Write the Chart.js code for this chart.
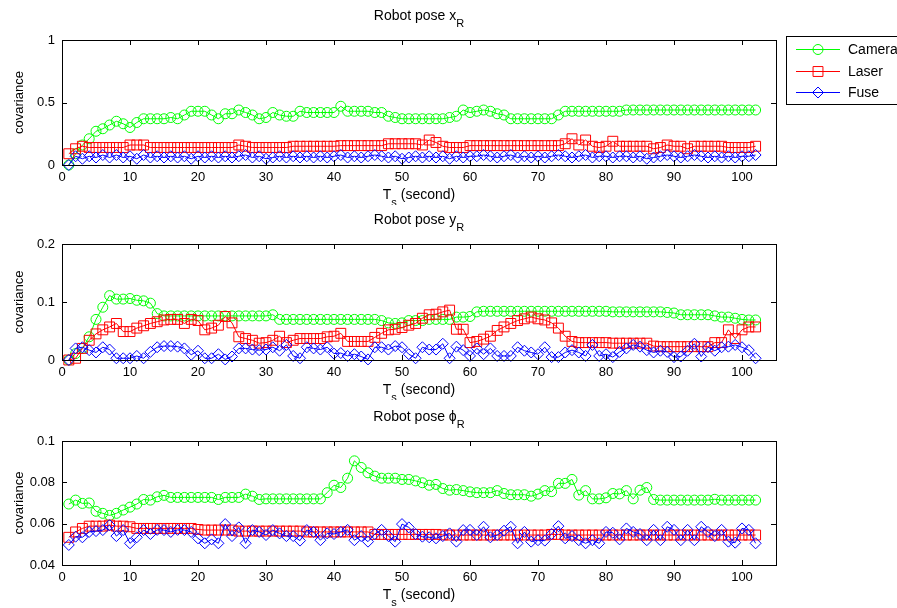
<!DOCTYPE html>
<html>
<head>
<meta charset="utf-8">
<script src="https://cdn.jsdelivr.net/npm/chart.js@4.4.0/dist/chart.umd.min.js"></script>
<style>
  body { margin: 0; background: #fff; width: 897px; height: 608px; overflow: hidden; position: relative; }
  canvas { position: absolute; left: 0; }
</style>
</head>
<body>
<canvas id="poseX" width="897" height="205" style="top:0px"></canvas>
<canvas id="poseY" width="897" height="195" style="top:205px"></canvas>
<canvas id="posePhi" width="897" height="208" style="top:400px"></canvas>
<script>
// time steps 1..102 (seconds)
let timeSteps = Array.from({ length: 102 }, (_, i) => i + 1)
let xTicks = [0, 10, 20, 30, 40, 50, 60, 70, 80, 90, 100]
let seriesNames = ['Camera', 'Laser', 'Fuse']

// Robot pose x_R
let camX = [0,0.09,0.16,0.21,0.27,0.29,0.32,0.35,0.33,0.30, 0.34,0.37,0.37,0.37,0.37,0.38,0.37,0.40,0.43,0.43,
  0.43,0.40,0.37,0.41,0.41,0.44,0.42,0.40,0.37,0.38, 0.42,0.40,0.39,0.39,0.43,0.42,0.42,0.42,0.42,0.42,
  0.47,0.43,0.43,0.43,0.43,0.42,0.42,0.39,0.38,0.37, 0.37,0.37,0.37,0.37,0.37,0.37,0.38,0.39,0.44,0.42,
  0.43,0.44,0.43,0.41,0.40,0.37,0.37,0.37,0.37,0.37, 0.37,0.37,0.40,0.43,0.43,0.43,0.43,0.43,0.43,0.43,
  0.43,0.43,0.44,0.44,0.44,0.44,0.44,0.44,0.44,0.44, 0.44,0.44,0.44,0.44,0.44,0.44,0.44,0.44,0.44,0.44,
  0.44,0.44]
let lasX = [0.09,0.13,0.15,0.14,0.14,0.14,0.14,0.14,0.14,0.16, 0.16,0.16,0.14,0.14,0.14,0.14,0.14,0.14,0.14,0.14,
  0.14,0.14,0.14,0.14,0.14,0.16,0.15,0.14,0.14,0.14, 0.14,0.14,0.14,0.15,0.15,0.15,0.15,0.15,0.15,0.15,
  0.155,0.155,0.155,0.155,0.155,0.155,0.155,0.17,0.17,0.17, 0.17,0.17,0.16,0.20,0.18,0.15,0.14,0.14,0.14,0.155,
  0.155,0.155,0.155,0.155,0.155,0.155,0.155,0.155,0.155,0.155, 0.155,0.155,0.155,0.17,0.21,0.16,0.20,0.15,0.14,0.15,
  0.19,0.15,0.15,0.15,0.15,0.15,0.13,0.14,0.16,0.15, 0.15,0.13,0.15,0.15,0.15,0.15,0.15,0.14,0.14,0.14,
  0.14,0.15]
let fusX = [0,0.07,0.05,0.07,0.06,0.08,0.06,0.08,0.06,0.07, 0.05,0.08,0.06,0.07,0.06,0.07,0.06,0.07,0.05,0.07,
  0.06,0.07,0.06,0.07,0.06,0.07,0.08,0.06,0.07,0.05, 0.06,0.07,0.06,0.07,0.06,0.07,0.06,0.07,0.06,0.07,
  0.08,0.06,0.07,0.06,0.07,0.08,0.07,0.06,0.07,0.05, 0.06,0.07,0.06,0.07,0.06,0.07,0.05,0.07,0.06,0.07,
  0.07,0.08,0.07,0.06,0.07,0.08,0.06,0.07,0.06,0.07, 0.06,0.07,0.08,0.07,0.06,0.07,0.08,0.06,0.07,0.07,
  0.06,0.07,0.07,0.06,0.07,0.05,0.06,0.07,0.08,0.07, 0.06,0.07,0.08,0.07,0.06,0.07,0.06,0.07,0.06,0.07,
  0.07,0.08]

// Robot pose y_R
let camY = [0,0.011,0.02,0.04,0.07,0.091,0.111,0.105,0.105,0.106, 0.103,0.102,0.098,0.08,0.076,0.076,0.076,0.076,0.076,0.076,
  0.076,0.076,0.076,0.076,0.076,0.076,0.076,0.076,0.076,0.076, 0.078,0.07,0.07,0.07,0.07,0.07,0.07,0.07,0.07,0.07,
  0.07,0.07,0.07,0.07,0.07,0.07,0.068,0.064,0.063,0.064, 0.068,0.068,0.068,0.07,0.07,0.07,0.07,0.074,0.074,0.075,
  0.083,0.084,0.084,0.084,0.084,0.084,0.084,0.084,0.084,0.084, 0.084,0.084,0.084,0.084,0.084,0.084,0.084,0.084,0.084,0.084,
  0.083,0.083,0.083,0.083,0.083,0.083,0.083,0.083,0.082,0.081, 0.078,0.078,0.078,0.078,0.078,0.076,0.074,0.074,0.072,0.07,
  0.069,0.069]
let lasY = [0,0.003,0.02,0.034,0.045,0.052,0.057,0.063,0.049,0.049, 0.055,0.059,0.063,0.066,0.069,0.07,0.07,0.063,0.07,0.068,
  0.052,0.055,0.06,0.075,0.064,0.04,0.037,0.034,0.029,0.03, 0.034,0.041,0.03,0.034,0.037,0.037,0.037,0.037,0.04,0.041,
  0.046,0.032,0.032,0.032,0.032,0.039,0.046,0.052,0.053,0.056, 0.06,0.063,0.072,0.078,0.079,0.083,0.086,0.053,0.053,0.03,
  0.032,0.036,0.041,0.051,0.057,0.063,0.068,0.071,0.074,0.071, 0.069,0.064,0.055,0.041,0.032,0.03,0.03,0.03,0.03,0.03,
  0.029,0.029,0.029,0.029,0.029,0.029,0.024,0.023,0.023,0.023, 0.023,0.023,0.023,0.023,0.023,0.03,0.03,0.052,0.037,0.052,
  0.057,0.057]
let fusY = [0,0.02,0.022,0.017,0.013,0.022,0.018,0.003,0.003,0.003, 0.007,0.003,0.014,0.022,0.024,0.024,0.023,0.02,0.009,0.016,
  0.003,0.003,0.01,0.001,0.006,0.02,0.02,0.018,0.017,0.018, 0.022,0.016,0.026,0.007,0.003,0.022,0.02,0.018,0.022,0.011,
  0.012,0.007,0.01,0.006,0.001,0.022,0.022,0.018,0.024,0.022, 0.01,0.003,0.022,0.018,0.018,0.028,0.003,0.023,0.017,0.007,
  0.02,0.01,0.02,0.007,0.007,0.007,0.022,0.016,0.013,0.01, 0.022,0.005,0.005,0.013,0.017,0.013,0.007,0.026,0.007,0.01,
  0.005,0.014,0.02,0.026,0.023,0.017,0.013,0.016,0.014,0.005, 0.006,0.016,0.028,0.006,0.022,0.016,0.022,0.023,0.026,0.022,
  0.017,0.003]

// Robot pose phi_R
let camPhi = [0.0695,0.0714,0.0698,0.070,0.066,0.065,0.064,0.065,0.0666,0.068, 0.0695,0.0717,0.0714,0.073,0.0737,0.0727,0.0727,0.0727,0.0727,0.0727,
  0.0727,0.0727,0.0717,0.0727,0.0727,0.0727,0.0743,0.0733,0.0717,0.072, 0.072,0.072,0.072,0.072,0.072,0.072,0.072,0.072,0.075,0.0786,
  0.0775,0.082,0.0904,0.0872,0.0846,0.083,0.082,0.082,0.082,0.0814, 0.0814,0.0807,0.0798,0.0786,0.079,0.077,0.0762,0.0765,0.076,0.0754,
  0.075,0.075,0.075,0.076,0.0746,0.074,0.074,0.074,0.0733,0.0743, 0.076,0.0755,0.0795,0.0795,0.0814,0.0738,0.076,0.072,0.072,0.0725,
  0.0746,0.0744,0.076,0.072,0.0762,0.0775,0.0717,0.0714,0.0714,0.0714, 0.0714,0.0714,0.0714,0.0714,0.0714,0.0718,0.0714,0.0714,0.0714,0.0714,
  0.0714,0.0714]
let lasPhi = [0.0534,0.056,0.0577,0.0588,0.0588,0.0588,0.0593,0.0588,0.0588,0.0585, 0.0577,0.0577,0.0577,0.0577,0.0577,0.0577,0.0577,0.0577,0.0577,0.0572,
  0.0569,0.0569,0.0569,0.0569,0.0569,0.0564,0.0564,0.0564,0.0564,0.0564, 0.0564,0.0564,0.0564,0.0564,0.0564,0.056,0.056,0.056,0.056,0.056,
  0.056,0.056,0.056,0.056,0.056,0.0548,0.0548,0.0548,0.0548,0.0548, 0.0548,0.0548,0.0548,0.0548,0.0548,0.0546,0.0545,0.0545,0.0545,0.0545,
  0.0545,0.0545,0.0545,0.0545,0.0545,0.0545,0.0545,0.0545,0.0545,0.0545, 0.0545,0.0548,0.0548,0.0545,0.0545,0.0545,0.0545,0.0545,0.0545,0.0545,
  0.0545,0.0545,0.0545,0.0545,0.0545,0.0545,0.0545,0.0545,0.0545,0.0545, 0.0545,0.0545,0.0545,0.0545,0.0545,0.0545,0.0545,0.0545,0.0545,0.0545,
  0.0545,0.0545]
let fusPhi = [0.0497,0.0537,0.0534,0.056,0.0564,0.0569,0.0593,0.054,0.0569,0.0505, 0.0534,0.0569,0.055,0.057,0.0569,0.056,0.057,0.0569,0.056,0.0529,
  0.0505,0.0524,0.0505,0.0598,0.054,0.0582,0.0505,0.0569,0.056,0.0545, 0.0569,0.0553,0.054,0.054,0.0518,0.0569,0.056,0.052,0.0553,0.055,
  0.056,0.057,0.052,0.054,0.0513,0.055,0.057,0.054,0.0513,0.0598, 0.0582,0.055,0.0537,0.0534,0.0529,0.054,0.0553,0.0513,0.0569,0.057,
  0.0545,0.0585,0.0534,0.0545,0.0566,0.0585,0.0505,0.056,0.0513,0.052, 0.0518,0.055,0.0588,0.0529,0.054,0.052,0.0505,0.052,0.0505,0.056,
  0.0556,0.0524,0.0577,0.056,0.055,0.052,0.057,0.052,0.0585,0.057, 0.052,0.057,0.052,0.0585,0.056,0.054,0.057,0.0513,0.0508,0.0577,
  0.057,0.0505]

let yTicksX = [0, 0.5, 1]
let yTicksY = [0, 0.1, 0.2]
let yTicksPhi = [0.04, 0.06, 0.08, 0.1]

let fontName = '"Liberation Sans", Arial, Helvetica, sans-serif'
let colors = ['#00ff00', '#ff0000', '#0000ff']
let styles = ['circle', 'rect', 'rectRot']
let radii = [5, 7, 5.5]

function toPoints(vals) {
  return vals.map((v, i) => ({ x: timeSteps[i], y: v }))
}

// text with a subscript part, centered on cx
function drawSubText(ctx, parts, cx, baseline, size) {
  let widths = parts.map(p => {
    ctx.font = (p.sub ? size - 3 : size) + 'px ' + fontName
    return ctx.measureText(p.t).width
  })
  let total = widths.reduce((a, b) => a + b, 0)
  let x = cx - total / 2
  ctx.fillStyle = '#000'
  ctx.textAlign = 'left'
  ctx.textBaseline = 'alphabetic'
  parts.forEach((p, i) => {
    ctx.font = (p.sub ? size - 3 : size) + 'px ' + fontName
    ctx.fillText(p.t, x, baseline + (p.sub ? 7 : 0))
    x += widths[i]
  })
}

function drawMarker(ctx, style, x, y, r) {
  ctx.beginPath()
  if (style == 'circle') ctx.arc(x, y, r, 0, Math.PI * 2)
  else if (style == 'rect') { let h = r * Math.SQRT1_2; ctx.rect(x - h, y - h, 2 * h, 2 * h) }
  else { ctx.moveTo(x - r, y); ctx.lineTo(x, y - r); ctx.lineTo(x + r, y); ctx.lineTo(x, y + r); ctx.closePath() }
  ctx.stroke()
}

function drawLegend(ctx) {
  ctx.save()
  ctx.fillStyle = '#fff'
  ctx.fillRect(786, 36, 140, 69)
  ctx.strokeStyle = '#000'
  ctx.lineWidth = 1
  ctx.strokeRect(786.5, 36.5, 140, 68)
  let rows = [49, 71, 92]
  seriesNames.forEach((name, i) => {
    ctx.strokeStyle = colors[i]
    ctx.beginPath()
    ctx.moveTo(796, rows[i] + 0.5)
    ctx.lineTo(840, rows[i] + 0.5)
    ctx.stroke()
    drawMarker(ctx, styles[i], 818, rows[i] + 0.5, radii[i])
    ctx.fillStyle = '#000'
    ctx.font = '14px ' + fontName
    ctx.textBaseline = 'middle'
    ctx.fillText(name, 848, rows[i] + 1)
  })
  ctx.restore()
}

function makeChart(id, cam, las, fus, yTicks, titleParts, plotTop, plotBottom, withLegend) {
  let canvas = document.getElementById(id)
  let h = canvas.height
  let decor = {
    id: 'decor' + id,
    afterDraw(chart) {
      let ctx = chart.ctx
      let a = chart.chartArea
      let xs = chart.scales.x
      let ys = chart.scales.y
      ctx.save()
      ctx.strokeStyle = '#000'
      ctx.lineWidth = 1
      ctx.strokeRect(a.left + 0.5, a.top + 0.5, a.right - a.left, a.bottom - a.top)
      ctx.beginPath()
      xTicks.forEach(v => {
        let px = Math.round(xs.getPixelForValue(v)) + 0.5
        ctx.moveTo(px, a.bottom); ctx.lineTo(px, a.bottom - 5)
        ctx.moveTo(px, a.top); ctx.lineTo(px, a.top + 5)
      })
      yTicks.forEach(v => {
        let py = Math.round(ys.getPixelForValue(v)) + 0.5
        ctx.moveTo(a.left, py); ctx.lineTo(a.left + 5, py)
        ctx.moveTo(a.right, py); ctx.lineTo(a.right - 5, py)
      })
      ctx.stroke()
      let cx = (a.left + a.right) / 2
      drawSubText(ctx, titleParts, cx, a.top - 20, 14)
      drawSubText(ctx, [{ t: 'T' }, { t: 's', sub: true }, { t: ' (second)' }], cx, a.bottom + 34, 14)
      ctx.restore()
      if (withLegend) drawLegend(ctx)
    }
  }
  let sets = [cam, las, fus].map((vals, i) => ({
    label: seriesNames[i],
    data: toPoints(vals),
    borderColor: colors[i],
    borderWidth: 1,
    pointStyle: styles[i],
    pointRadius: radii[i],
    pointBorderColor: colors[i],
    pointBorderWidth: 1,
    pointBackgroundColor: 'rgba(0,0,0,0)',
    tension: 0,
    clip: false,
    order: 3 - i
  }))
  return new Chart(canvas.getContext('2d'), {
    type: 'line',
    data: { datasets: sets },
    options: {
      responsive: false,
      animation: false,
      devicePixelRatio: 1,
      layout: { padding: { top: plotTop, left: 0, right: 121, bottom: h - plotBottom - 20 } },
      plugins: { legend: { display: false }, tooltip: { enabled: false } },
      scales: {
        x: {
          type: 'linear',
          min: 0,
          max: 105,
          grid: { display: false, drawTicks: false },
          border: { display: false },
          ticks: { color: '#000', font: { family: fontName, size: 13 }, padding: 5, maxRotation: 0, autoSkip: false },
          afterBuildTicks: s => { s.ticks = xTicks.map(v => ({ value: v })) },
          afterFit: s => { s.height = 20 }
        },
        y: {
          min: yTicks[0],
          max: yTicks[yTicks.length - 1],
          grid: { display: false, drawTicks: false },
          border: { display: false },
          ticks: { color: '#000', font: { family: fontName, size: 13 }, padding: 7, callback: v => String(v) },
          title: { display: true, text: 'covariance', color: '#000', font: { family: fontName, size: 13 }, padding: { top: 12, bottom: 0 } },
          afterBuildTicks: s => { s.ticks = yTicks.map(v => ({ value: v })) },
          afterFit: s => { s.width = 62 }
        }
      }
    },
    plugins: [decor]
  })
}

let chartX = makeChart('poseX', camX, lasX, fusX, yTicksX, [{ t: 'Robot pose x' }, { t: 'R', sub: true }], 40, 165, true)
let chartY = makeChart('poseY', camY, lasY, fusY, yTicksY, [{ t: 'Robot pose y' }, { t: 'R', sub: true }], 39, 155, false)
let chartPhi = makeChart('posePhi', camPhi, lasPhi, fusPhi, yTicksPhi, [{ t: 'Robot pose ' }, { t: '\u03D5', sub: false, phi: true }, { t: 'R', sub: true }], 41, 165, false)
</script>
</body>
</html>
